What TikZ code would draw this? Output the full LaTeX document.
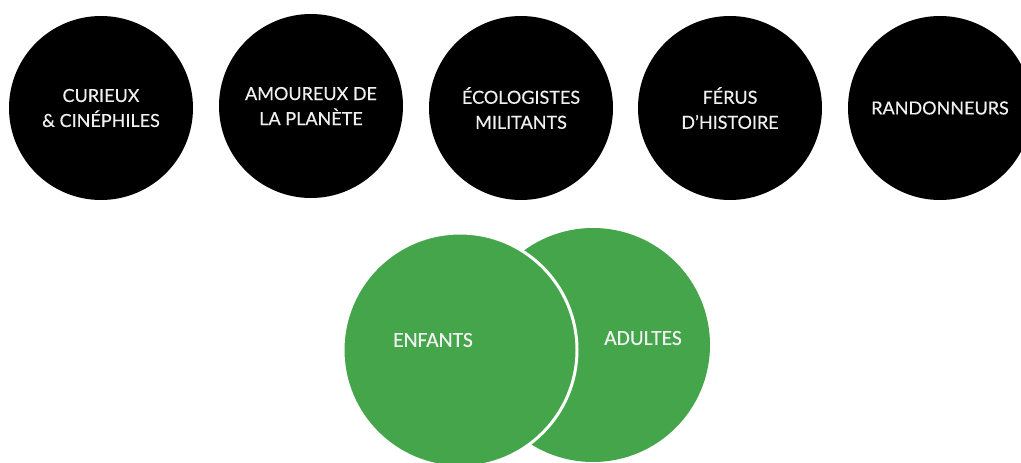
\documentclass[tikz,border=0pt]{standalone}
\usepackage{fontspec}
\newfontfamily\latofont[FakeBold=0.4]{Lato}
\newfontfamily\carlitofont[FakeBold=0.3]{Carlito}
\usetikzlibrary{positioning}
\definecolor{vert}{RGB}{68,165,74}
\definecolor{blanc}{RGB}{240,240,240}

\begin{document}
\begin{tikzpicture}[x=1pt,y=-1pt,
  rond/.style={circle, fill=black, minimum size=184pt, inner sep=0pt,
    text=blanc, align=center, font=\latofont\fontsize{18}{25}\selectfont},
  bulle/.style={circle, fill=vert, minimum size=234pt, inner sep=0pt},
  etiquette/.style={text=blanc, font=\carlitofont\fontsize{21.5}{24}\selectfont}]
\useasboundingbox (0,0) rectangle (1021,463);
% les cinq publics
\node[rond] (curieux) at (101,108) {CURIEUX\\\& CINÉPHILES};
\node[rond] (amoureux) at (311,106) {AMOUREUX DE\\LA PLANÈTE};
\node[rond] (ecolo) at (521,108) {ÉCOLOGISTES\\MILITANTS};
\node[rond] (ferus) at (730,108) {FÉRUS\\D’HISTOIRE};
\node[rond] (rando) at (940,108) {RANDONNEURS};
% les deux tranches d'age
\node[bulle] (adultes) at (593,345) {};
\node[bulle, draw=white, line width=3pt] (enfants) at (460,350) {};
\node[etiquette] (txtenf) at (433,340) {ENFANTS};
\node[etiquette] (txtadu) at (643,338) {ADULTES};
\end{tikzpicture}
\end{document}
